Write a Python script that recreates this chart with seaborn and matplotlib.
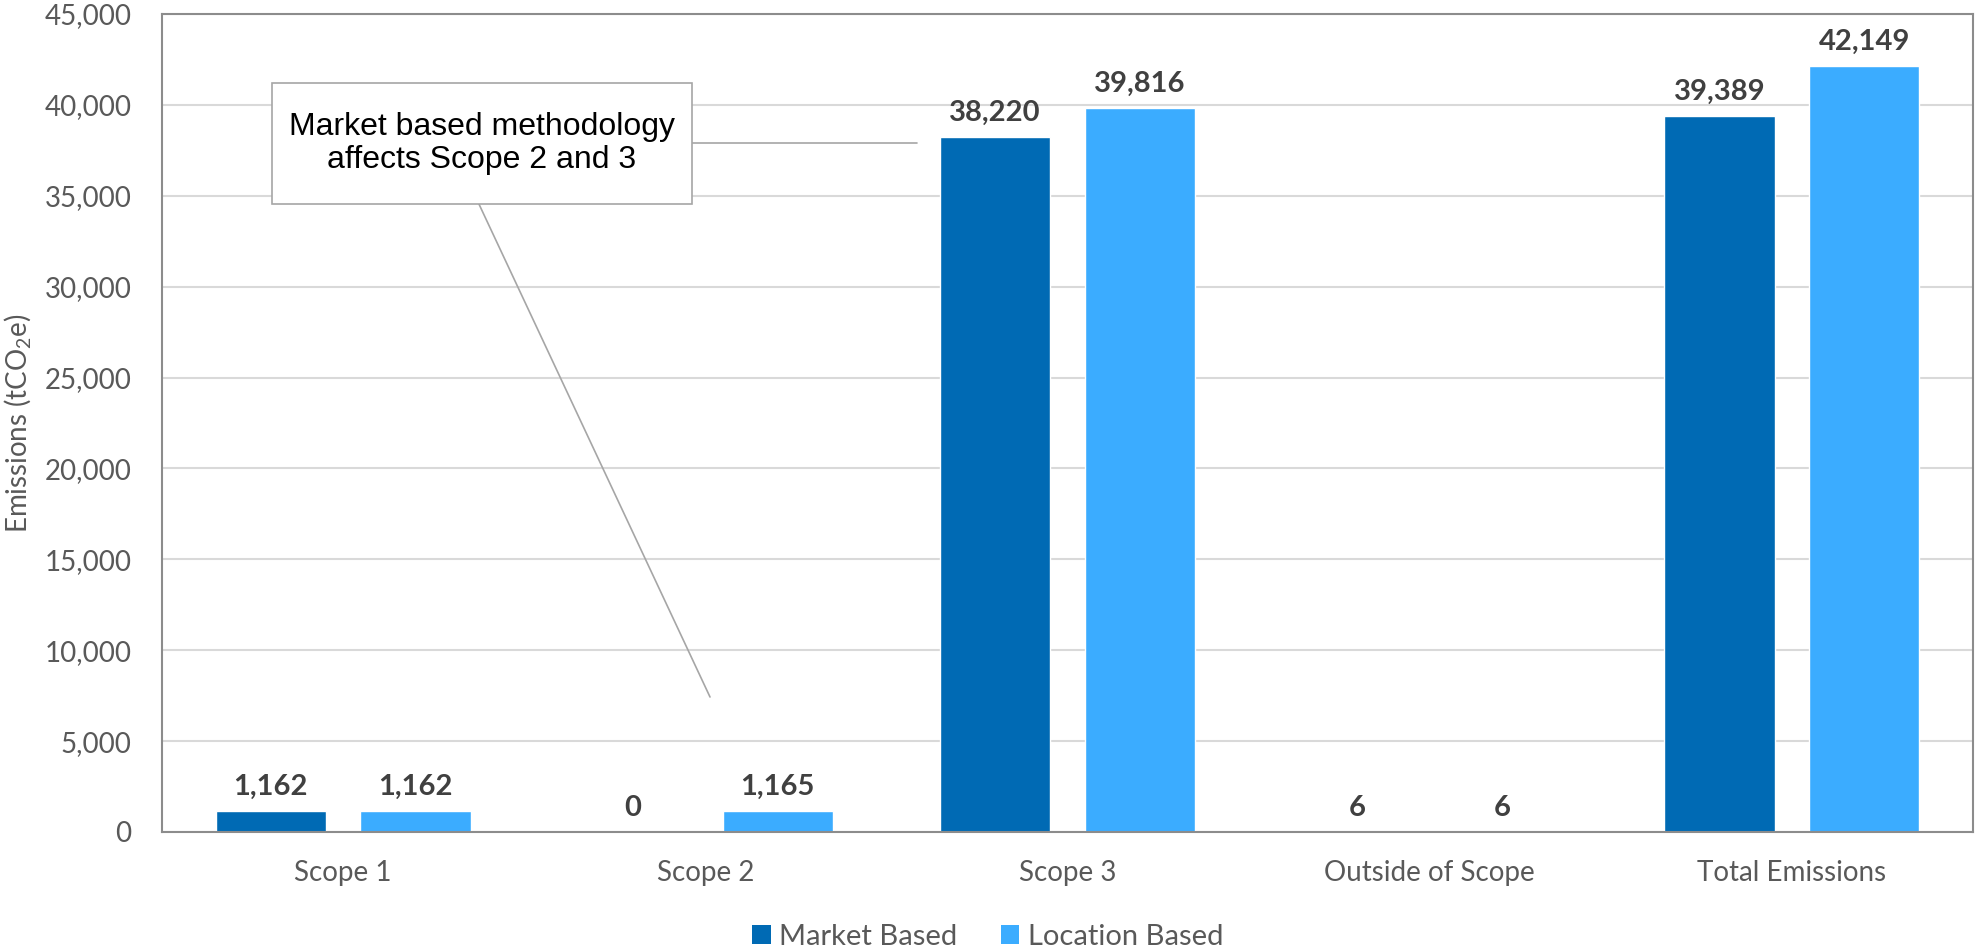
import matplotlib
matplotlib.use("Agg")
import matplotlib.pyplot as plt
from matplotlib.patches import Rectangle, Patch
import seaborn as sns
import pandas as pd

# Emissions by scope, two accounting methods
categories = ["Scope 1", "Scope 2", "Scope 3", "Outside of Scope", "Total Emissions"]
series_names = ["Market Based", "Location Based"]
market_based = [1162, 0, 38220, 6, 39389]
location_based = [1162, 1165, 39816, 6, 42149]
y_ticks = [0, 5000, 10000, 15000, 20000, 25000, 30000, 35000, 40000, 45000]

colors = {"Market Based": "#006AB4", "Location Based": "#3BACFF"}
tick_color = "#595959"
value_color = "#404040"

df = pd.DataFrame({
    "Category": categories * 2,
    "Method": [series_names[0]] * len(categories) + [series_names[1]] * len(categories),
    "Emissions": market_based + location_based,
})

sns.set_theme(style="white")
plt.rcParams["font.family"] = ["Lato", "DejaVu Sans"]
plt.rcParams["mathtext.fontset"] = "custom"
plt.rcParams["mathtext.rm"] = "Lato"
plt.rcParams["mathtext.it"] = "Lato"

fig = plt.figure(figsize=(19.76, 9.51), dpi=100)
ax = fig.add_axes([162 / 1976, 1 - 832 / 951, (1973 - 162) / 1976, (832 - 14) / 951])

sns.barplot(data=df, x="Category", y="Emissions", hue="Method", order=categories,
            hue_order=series_names, palette=colors, width=0.8, gap=0.24,
            saturation=1, ax=ax, legend=False)

ax.set_ylim(0, 45000)
ax.set_xlim(-0.5, len(categories) - 0.5)
ax.set_yticks(y_ticks)
ax.set_yticklabels([f"{v:,}" for v in y_ticks])
ax.yaxis.grid(True, color="#D9D9D9", linewidth=1.5)
ax.set_axisbelow(True)
for side in ["left", "right", "top", "bottom"]:
    ax.spines[side].set_visible(True)
    ax.spines[side].set_color("#8C8C8C")
    ax.spines[side].set_linewidth(1.5)
ax.tick_params(axis="both", length=0, labelsize=20, labelcolor=tick_color)
ax.tick_params(axis="y", pad=22)
ax.tick_params(axis="x", pad=20)
ax.set_xlabel("")
ax.set_ylabel(r"Emissions (tCO$_\mathregular{2}$e)", fontsize=20, color=tick_color, labelpad=8)

for cont in ax.containers:
    ax.bar_label(cont, labels=[f"{b.get_height():,.0f}" for b in cont],
                 padding=8, fontsize=21, fontweight="bold", color=value_color)

# Callout box with leader lines
box_x0, box_x1 = -0.196, 0.963
box_y0, box_y1 = 34548, 41204
ax.add_patch(Rectangle((box_x0, box_y0), box_x1 - box_x0, box_y1 - box_y0,
                       facecolor="white", edgecolor="#A6A6A6", linewidth=1.2, zorder=4))
ax.text((box_x0 + box_x1) / 2, (box_y0 + box_y1) / 2,
        "Market based methodology\naffects Scope 2 and 3",
        ha="center", va="center", fontsize=23, color="black", linespacing=1.1,
        family=["Liberation Sans", "DejaVu Sans"], zorder=5)
ax.plot([box_x1, 1.584], [37904, 37904], color="#A6A6A6", linewidth=1.2, zorder=3)
ax.plot([0.375, 1.013], [box_y0, 7427], color="#A6A6A6", linewidth=1.2, zorder=3)

handles = [Patch(facecolor=colors[n], edgecolor="none") for n in series_names]
fig.legend(handles, series_names, loc="lower center", bbox_to_anchor=(0.5, -0.014),
           ncol=2, frameon=False, fontsize=21, labelcolor=tick_color,
           handlelength=0.62, handleheight=0.62, handletextpad=0.3,
           columnspacing=1.5, borderpad=0)

fig.savefig("out.png", dpi=100)
